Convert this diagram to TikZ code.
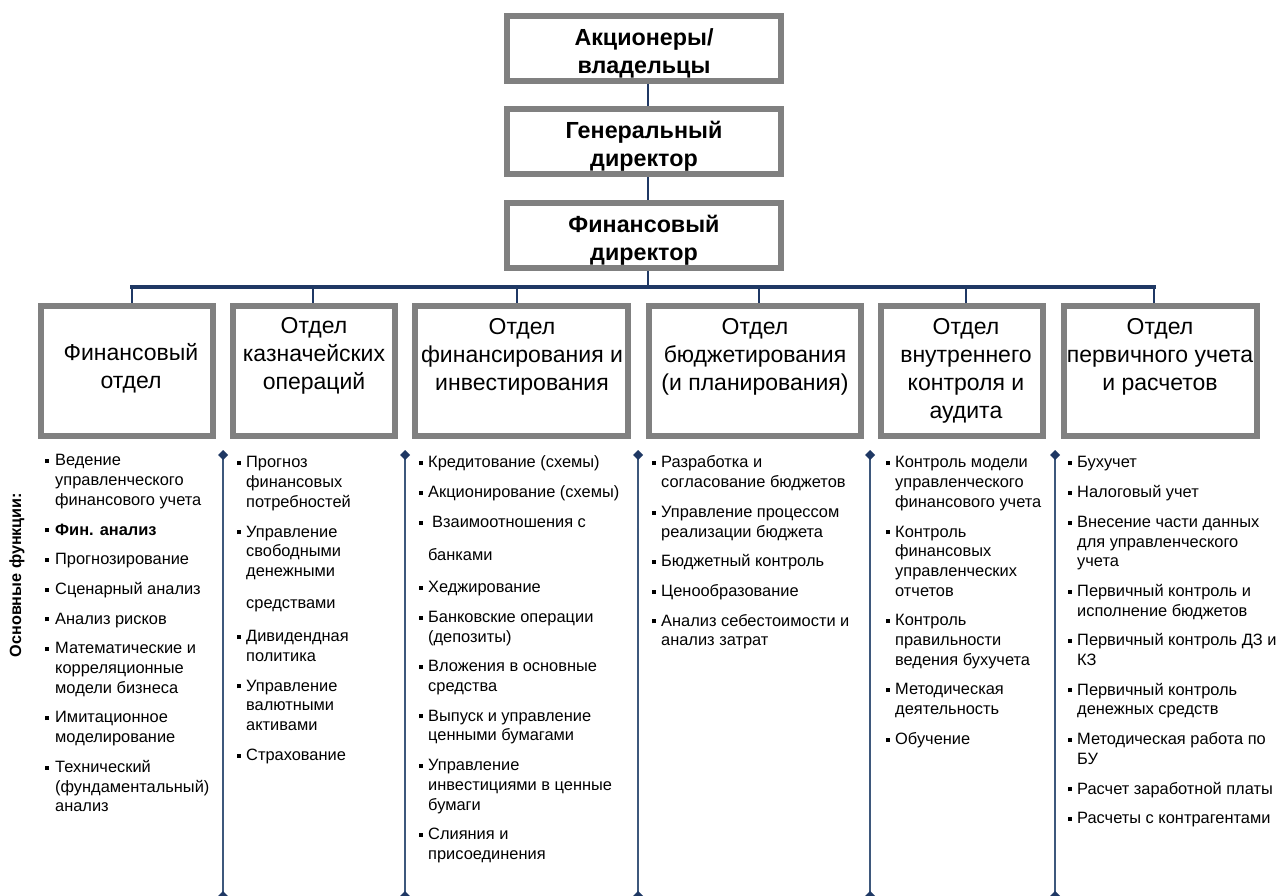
\documentclass[tikz,border=0pt]{standalone}
\usepackage{fontspec}
\setmainfont{Liberation Sans}
\usepackage{tikz}
\usetikzlibrary{arrows.meta}

\definecolor{framegray}{RGB}{128,128,128}
\definecolor{navy}{RGB}{31,56,100}
\definecolor{sepblue}{RGB}{62,88,124}

% bullet of the function lists
\newcommand{\fb}{\raisebox{2.8pt}{\rule{4pt}{4pt}}}

\begin{document}
\begin{tikzpicture}[x=1pt,y=-1pt,
  topbox/.style={draw=framegray, line width=6pt, minimum width=274pt, minimum height=65pt, inner sep=0pt},
  toptitle/.style={inner sep=0pt, align=center, font=\fontsize{23.3}{28}\selectfont\bfseries},
  deptbox/.style={draw=framegray, line width=6pt, minimum height=130pt, inner sep=0pt},
  depttitle/.style={anchor=north, inner sep=0pt, align=center, font=\fontsize{23}{28}\selectfont},
  funcs/.style={anchor=north west, inner sep=0pt, font=\fontsize{16.4}{19.7}\selectfont},
  link/.style={navy, line width=2pt},
  sep/.style={sepblue, line width=2pt,
    {Diamond[length=10pt,width=10pt,color=navy]}-{Diamond[length=10pt,width=10pt,color=navy]}}
]
\useasboundingbox (0,0) rectangle (1278,896);

% top of the chart
\node[topbox] (owners) at (644,48.5) {};
\node[topbox] (ceo) at (644,142) {};
\node[topbox] (cfo) at (644,236) {};
\node[toptitle] (owners-t) at (644,53) {Акционеры/\\владельцы};
\node[toptitle] (ceo-t) at (644,146.5) {Генеральный\\директор};
\node[toptitle] (cfo-t) at (644,240.5) {Финансовый\\директор};
\draw[link] ([xshift=4pt]owners.south) -- ([xshift=4pt]ceo.north);
\draw[link] ([xshift=4pt]ceo.south) -- ([xshift=4pt]cfo.north);

% departments
\node[deptbox, minimum width=172pt] (fin) at (127,371) {};
\node[deptbox, minimum width=162pt] (treas) at (314,371) {};
\node[deptbox, minimum width=213pt] (invest) at (521.5,371) {};
\node[deptbox, minimum width=212pt] (budget) at (755,371) {};
\node[deptbox, minimum width=162pt] (audit) at (962,371) {};
\node[deptbox, minimum width=193pt] (acc) at (1160.5,371) {};

\node[depttitle] (fin-t) at (131,343.5) {Финансовый\\отдел};
\node[depttitle] (treas-t) at (314,317) {Отдел\\казначейских\\операций};
\node[depttitle] (invest-t) at (522,318) {Отдел\\финансирования и\\инвестирования};
\node[depttitle] (budget-t) at (755,318) {Отдел\\бюджетирования\\(и планирования)};
\node[depttitle] (audit-t) at (966,318) {Отдел\\внутреннего\\контроля и\\аудита};
\node[depttitle] (acc-t) at (1160,318) {Отдел\\первичного учета\\и расчетов};

% bus from the CFO to the departments
\coordinate (bus) at ([xshift=4pt]cfo.south |- 0,287);
\coordinate (j1) at (132,287);
\coordinate (j2) at (313,287);
\coordinate (j3) at (517,287);
\coordinate (j4) at (759,287);
\coordinate (j5) at (966,287);
\coordinate (j6) at (1154,287);
\draw[link] ([xshift=4pt]cfo.south) -- (bus);
\draw[navy, line width=3.5pt, line cap=rect] (j1) -- (j6);
\foreach \j/\d in {j1/fin, j2/treas, j3/invest, j4/budget, j5/audit, j6/acc}
  \draw[link] (\j) -- (\j |- \d.north);

% separators between the lists
\foreach \x in {223,405,638,870,1055}
  \draw[sep] (\x,450) -- (\x,901);

\node[rotate=90, inner sep=0pt, font=\fontsize{16.2}{19}\selectfont\bfseries] (label) at (17,575) {Основные функции:};

% main functions
\node[funcs] (fin-f) at (45,452) {\begin{tabular}{@{}l@{\hspace{6pt}}l@{}}
\fb & Ведение\\
    & управленческого\\
    & финансового учета\\[10pt]
\fb & \textbf{Фин. анализ}\\[10pt]
\fb & Прогнозирование\\[10pt]
\fb & Сценарный анализ\\[10pt]
\fb & Анализ рисков\\[10pt]
\fb & Математические и\\
    & корреляционные\\
    & модели бизнеса\\[10pt]
\fb & Имитационное\\
    & моделирование\\[10pt]
\fb & Технический\\
    & (фундаментальный)\\
    & анализ
\end{tabular}};

\node[funcs] (treas-f) at (237,454) {\begin{tabular}{@{}l@{\hspace{5pt}}l@{}}
\fb & Прогноз\\
    & финансовых\\
    & потребностей\\[10pt]
\fb & Управление\\
    & свободными\\
    & денежными\\[12.5pt]
    & средствами\\[13.5pt]
\fb & Дивидендная\\
    & политика\\[10pt]
\fb & Управление\\
    & валютными\\
    & активами\\[10pt]
\fb & Страхование
\end{tabular}};

\node[funcs] (invest-f) at (419,454) {\begin{tabular}{@{}l@{\hspace{5pt}}l@{}}
\fb & Кредитование (схемы)\\[10pt]
\fb & Акционирование (схемы)\\[10pt]
\fb & \hspace{4pt}Взаимоотношения с\\[13pt]
    & банками\\[13pt]
\fb & Хеджирование\\[10pt]
\fb & Банковские операции\\
    & (депозиты)\\[10pt]
\fb & Вложения в основные\\
    & средства\\[10pt]
\fb & Выпуск и управление\\
    & ценными бумагами\\[10pt]
\fb & Управление\\
    & инвестициями в ценные\\
    & бумаги\\[10pt]
\fb & Слияния и\\
    & присоединения
\end{tabular}};

\node[funcs] (budget-f) at (652,454) {\begin{tabular}{@{}l@{\hspace{5pt}}l@{}}
\fb & Разработка и\\
    & согласование бюджетов\\[10pt]
\fb & Управление процессом\\
    & реализации бюджета\\[10pt]
\fb & Бюджетный контроль\\[10pt]
\fb & Ценообразование\\[10pt]
\fb & Анализ себестоимости и\\
    & анализ затрат
\end{tabular}};

\node[funcs] (audit-f) at (886,454) {\begin{tabular}{@{}l@{\hspace{5pt}}l@{}}
\fb & Контроль модели\\
    & управленческого\\
    & финансового учета\\[10pt]
\fb & Контроль\\
    & финансовых\\
    & управленческих\\
    & отчетов\\[10pt]
\fb & Контроль\\
    & правильности\\
    & ведения бухучета\\[10pt]
\fb & Методическая\\
    & деятельность\\[10pt]
\fb & Обучение
\end{tabular}};

\node[funcs] (acc-f) at (1068,454) {\begin{tabular}{@{}l@{\hspace{5pt}}l@{}}
\fb & Бухучет\\[10pt]
\fb & Налоговый учет\\[10pt]
\fb & Внесение части данных\\
    & для управленческого\\
    & учета\\[10pt]
\fb & Первичный контроль и\\
    & исполнение бюджетов\\[10pt]
\fb & Первичный контроль ДЗ и\\
    & КЗ\\[10pt]
\fb & Первичный контроль\\
    & денежных средств\\[10pt]
\fb & Методическая работа по\\
    & БУ\\[10pt]
\fb & Расчет заработной платы\\[10pt]
\fb & Расчеты с контрагентами
\end{tabular}};
\end{tikzpicture}
\end{document}
